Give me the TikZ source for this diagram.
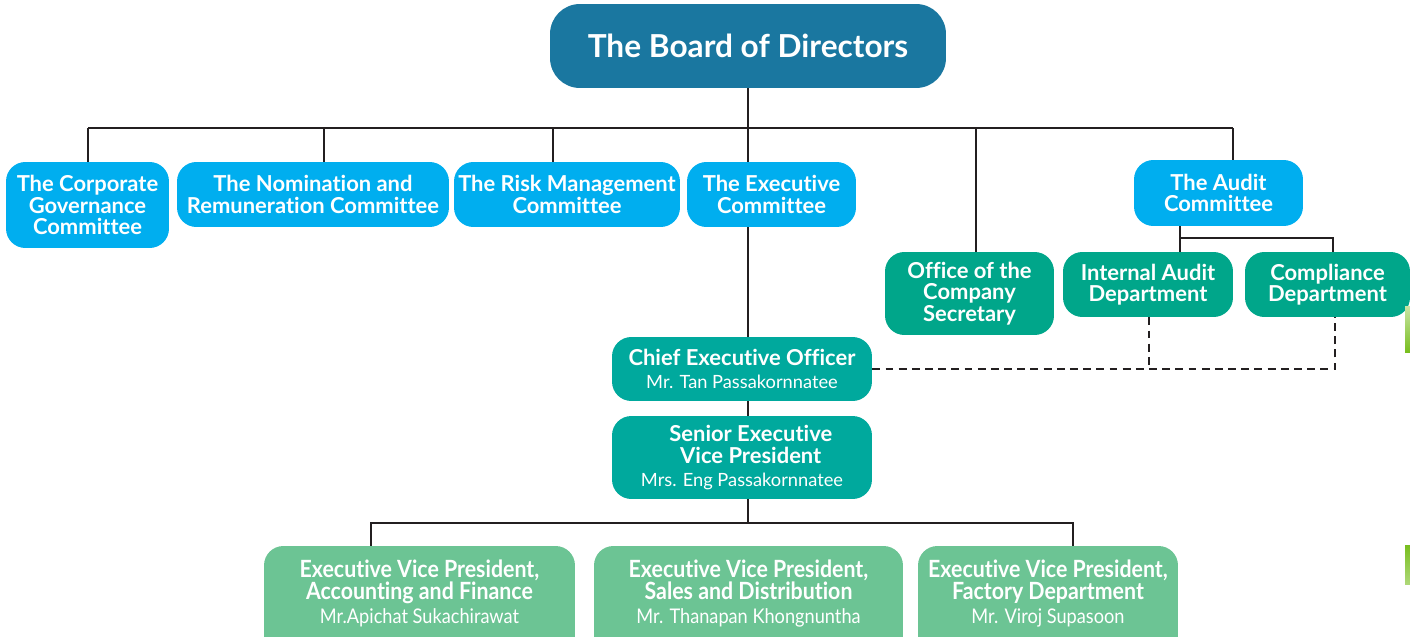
\documentclass[tikz,border=0pt]{standalone}
\usepackage{fontspec}
\setmainfont[Ligatures=NoCommon]{Lato}
\newfontfamily\narrowfont[FakeStretch=0.9,Ligatures=NoCommon]{Lato}
\usetikzlibrary{calc}

\definecolor{boardblue}{RGB}{26,119,160}
\definecolor{cyanbox}{RGB}{0,174,239}
\definecolor{greenbox}{RGB}{0,166,138}
\definecolor{tealbox}{RGB}{0,169,157}
\definecolor{mintbox}{RGB}{108,196,148}
\definecolor{linegray}{RGB}{35,31,32}
\definecolor{leaf}{RGB}{120,190,30}

% smaller line with a person's name
\newcommand\namefont{\mdseries\fontsize{10.4}{11}\selectfont}
\newcommand\evpnamefont{\mdseries\fontsize{11.5}{12}\selectfont}

\begin{document}
\begin{tikzpicture}[x=0.02cm,y=-0.02cm,
    box/.style={rounded corners=11pt,inner sep=0pt,align=center,text=white,
      font=\bfseries\fontsize{12.5}{12.2}\selectfont},
    committee/.style={box,fill=cyanbox},
    office/.style={box,fill=greenbox},
    officer/.style={box,fill=tealbox},
    evp/.style={box,fill=mintbox,font=\narrowfont\bfseries\fontsize{13.5}{12.6}\selectfont,
      text depth=9.5pt},
    link/.style={draw=linegray,line width=1.6pt},
    dotted link/.style={link,dash pattern=on 4.5pt off 3pt}]
\useasboundingbox (0,0) rectangle (1410,636);

% board
\node[box,fill=boardblue,minimum width=7.92cm,minimum height=1.68cm,rounded corners=17pt,
  font=\bfseries\fontsize{18}{20}\selectfont] (board) at (748,46) {The Board of Directors};

% committees
\node[committee,minimum width=3.26cm,minimum height=1.72cm] (corp) at (87.5,205)
  {The Corporate\\Governance\\Committee};
\node[committee,minimum width=5.44cm,minimum height=1.3cm] (nom) at (313,194.5)
  {The Nomination and\\Remuneration Committee};
\node[committee,minimum width=4.52cm,minimum height=1.3cm] (risk) at (567,194.5)
  {The Risk Management\\Committee};
\node[committee,minimum width=3.38cm,minimum height=1.3cm] (exec) at (771.5,194.5)
  {The Executive\\Committee};
\node[committee,minimum width=3.38cm,minimum height=1.32cm] (audit) at (1218.5,193)
  {The Audit\\Committee};

% offices
\node[office,minimum width=3.38cm,minimum height=1.66cm] (secretary) at (969.5,293.5)
  {Office of the\\Company\\Secretary};
\node[office,minimum width=3.4cm,minimum height=1.3cm] (intaudit) at (1148,284.5)
  {Internal Audit\\Department};
\node[office,minimum width=3.3cm,minimum height=1.3cm] (compl) at (1327.5,284.5)
  {Compliance\\Department};

% officers
\node[officer,minimum width=5.2cm,minimum height=1.28cm] (ceo) at (742,369)
  {Chief Executive Officer\\[1pt]{\namefont Mr. Tan Passakornnatee}};
\node[officer,minimum width=5.2cm,minimum height=1.66cm] (sevp) at (742,457.5)
  {\hspace*{10pt}Senior Executive\\\hspace*{10pt}Vice President\\[1pt]{\namefont Mrs. Eng Passakornnatee}};

\node[evp,minimum width=6.22cm,minimum height=2.16cm] (evpacc) at (419.5,600)
  {Executive Vice President,\\Accounting and Finance\\[1pt]{\evpnamefont Mr.Apichat Sukachirawat}};
\node[evp,minimum width=6.18cm,minimum height=2.16cm] (evpsales) at (748.5,600)
  {Executive Vice President,\\Sales and Distribution\\[1pt]{\evpnamefont Mr. Thanapan Khongnuntha}};
\node[evp,minimum width=5.2cm,minimum height=2.16cm] (evpfac) at (1048,600)
  {Executive Vice President,\\Factory Department\\[1pt]{\evpnamefont Mr. Viroj Supasoon}};

% board bar
\coordinate (b1) at (88,128);
\coordinate (b2) at (324,128);
\coordinate (b3) at (553,128);
\coordinate (b4) at (748,128);
\coordinate (b5) at (976,128);
\coordinate (b6) at (1233,128);
\draw[link] (board.south) -- (b4);
\draw[link] (b1) -- (b6);
\draw[link] (b1) -- (b1 |- corp.north);
\draw[link] (b2) -- (b2 |- nom.north);
\draw[link] (b3) -- (b3 |- risk.north);
\draw[link] (b4) -- (b4 |- exec.north);
\draw[link] (b5) -- (b5 |- secretary.north);
\draw[link] (b6) -- (b6 |- audit.north);

% line of command
\draw[link] (b4 |- exec.south) -- (b4 |- ceo.north);
\draw[link] (b4 |- ceo.south) -- (b4 |- sevp.north);
\coordinate (e1) at (371,523);
\coordinate (e2) at (1073,523);
\draw[link] (b4 |- sevp.south) -- (b4 |- e1);
\draw[link] (e1 |- evpacc.north) -- (e1) -- (e2) -- (e2 |- evpfac.north);

% audit
\coordinate (a1) at (1180,238);
\coordinate (a2) at (1333,238);
\draw[link] (a1 |- audit.south) -- (a1 |- intaudit.north);
\draw[link] (a1) -- (a2) -- (a2 |- compl.north);

% reporting
\coordinate (d1) at (1149,369);
\coordinate (d2) at (1335,369);
\draw[dotted link] (ceo.east) -- (d2) -- (d2 |- compl.south);
\draw[dotted link] (d1 |- intaudit.south) -- (d1);

% leaves on the edge
\shade[top color=leaf!40,bottom color=leaf] (1405,306) rectangle (1410,352);
\shade[top color=leaf,bottom color=leaf!60!white] (1405,545) rectangle (1410,584);
\end{tikzpicture}
\end{document}
